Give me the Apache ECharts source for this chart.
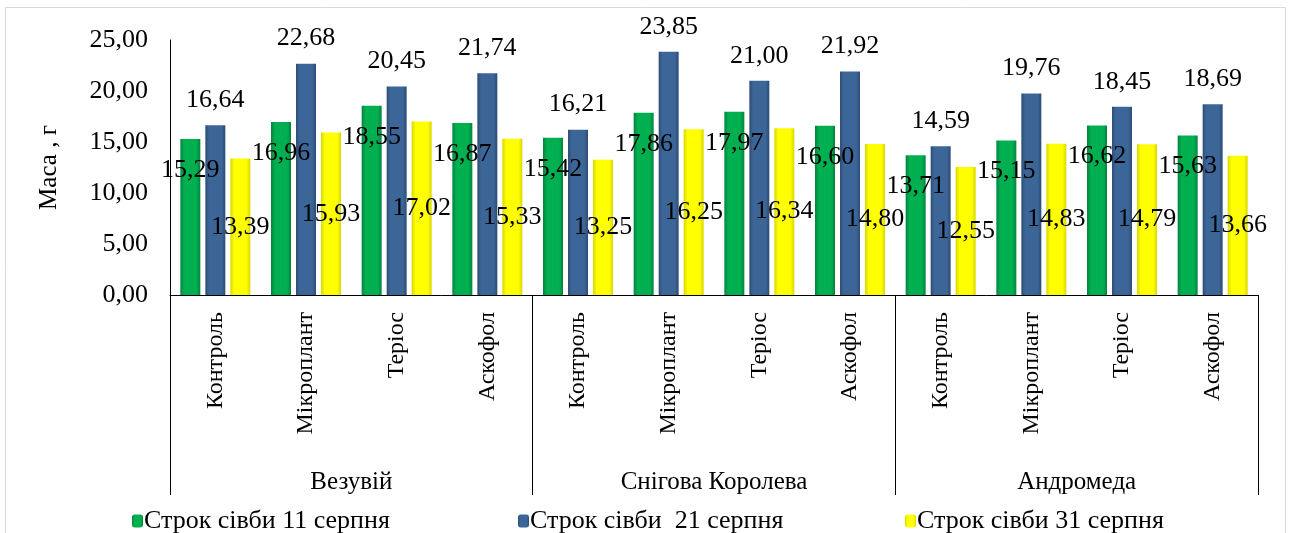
<!DOCTYPE html>
<html>
<head>
<meta charset="utf-8">
<script src="https://cdn.jsdelivr.net/npm/echarts@6/dist/echarts.min.js"></script>
<style>
  html, body { margin: 0; padding: 0; background: #fff; }
  #chart { width: 1292px; height: 533px; }
</style>
</head>
<body>
<div id="chart"></div>
<script>
var chart = echarts.init(document.getElementById('chart'));

var categories = ['Контроль', 'Мікроплант', 'Теріос', 'Аскофол',
                  'Контроль', 'Мікроплант', 'Теріос', 'Аскофол',
                  'Контроль', 'Мікроплант', 'Теріос', 'Аскофол'];
var groups = ['Везувій', 'Снігова Королева', 'Андромеда'];
var names = ['Строк сівби 11 серпня', 'Строк сівби  21 серпня', 'Строк сівби 31 серпня'];
var aug11 = [15.29, 16.96, 18.55, 16.87, 15.42, 17.86, 17.97, 16.60, 13.71, 15.15, 16.62, 15.63];
var aug21 = [16.64, 22.68, 20.45, 21.74, 16.21, 23.85, 21.00, 21.92, 14.59, 19.76, 18.45, 18.69];
var aug31 = [13.39, 15.93, 17.02, 15.33, 13.25, 16.25, 16.34, 14.80, 12.55, 14.83, 14.79, 13.66];

var font = 'Liberation Serif';
function fmt(v) { return Number(v).toFixed(2).replace('.', ','); }
function grad(edge, mid) {
    return new echarts.graphic.LinearGradient(0, 0, 1, 0, [
        {offset: 0, color: edge}, {offset: 0.2, color: mid},
        {offset: 0.8, color: mid}, {offset: 1, color: edge}
    ]);
}

function bar(name, data, color, pos, dist) {
    return {
        name: name,
        type: 'bar',
        data: data,
        barWidth: 20,
        barGap: '25%',
        itemStyle: color,
        label: {
            show: true,
            position: pos,
            distance: dist,
            color: '#000',
            fontFamily: font,
            fontSize: 26,
            formatter: function (p) { return fmt(p.value); }
        }
    };
}

var green = {color: grad('#00843c', '#00b050')};
var blue = {color: grad('#2c4d76', '#3d6698')};
var yellow = {color: grad('#d8d800', '#ffff00')};

function legendAt(left, name) {
    return {
        left: left, top: 503,
        data: [name],
        itemWidth: 11, itemHeight: 13,
        itemGap: 0,
        selectedMode: false,
        textStyle: {fontFamily: font, fontSize: 26, color: '#000', padding: [0, 0, 0, -4]}
    };
}

var option = {
    animation: false,
    textStyle: {fontFamily: font},
    color: ['#00b050', '#3d6698', '#ffff00'],
    graphic: [{
        type: 'rect',
        shape: {x: 5.5, y: 7.5, width: 1280, height: 530},
        style: {fill: 'none', stroke: '#d9d9d9', lineWidth: 1},
        silent: true
    }],
    legend: [legendAt(127, names[0]), legendAt(513, names[1]), legendAt(900, names[2])],
    grid: {left: 170, right: 34, top: 40, bottom: 238},
    xAxis: [{
        type: 'category',
        data: categories,
        axisLine: {lineStyle: {color: '#000', width: 1}},
        axisTick: {show: false},
        axisLabel: {
            rotate: 90, interval: 0, margin: 17,
            color: '#000', fontFamily: font, fontSize: 24
        }
    }, {
        type: 'category',
        data: groups,
        position: 'bottom',
        offset: 200,
        axisLine: {show: false},
        axisTick: {show: true, inside: true, length: 200, interval: 0, lineStyle: {color: '#000'}},
        axisLabel: {inside: true, margin: 0, color: '#000', fontFamily: font, fontSize: 25}
    }],
    yAxis: {
        type: 'value',
        min: 0, max: 25, interval: 5,
        name: 'Маса , г',
        nameLocation: 'middle',
        nameGap: 108,
        nameTextStyle: {color: '#000', fontFamily: font, fontSize: 25},
        axisLine: {show: true, lineStyle: {color: '#000'}},
        axisTick: {show: false},
        splitLine: {show: false},
        axisLabel: {
            margin: 22, color: '#000', fontFamily: font, fontSize: 26,
            formatter: function (v) { return fmt(v); }
        }
    },
    series: [
        bar(names[0], aug11, green, 'insideTop', 18),
        bar(names[1], aug21, blue, 'top', 12),
        bar(names[2], aug31, yellow, 'inside', 0)
    ]
};
chart.setOption(option);
</script>
</body>
</html>
